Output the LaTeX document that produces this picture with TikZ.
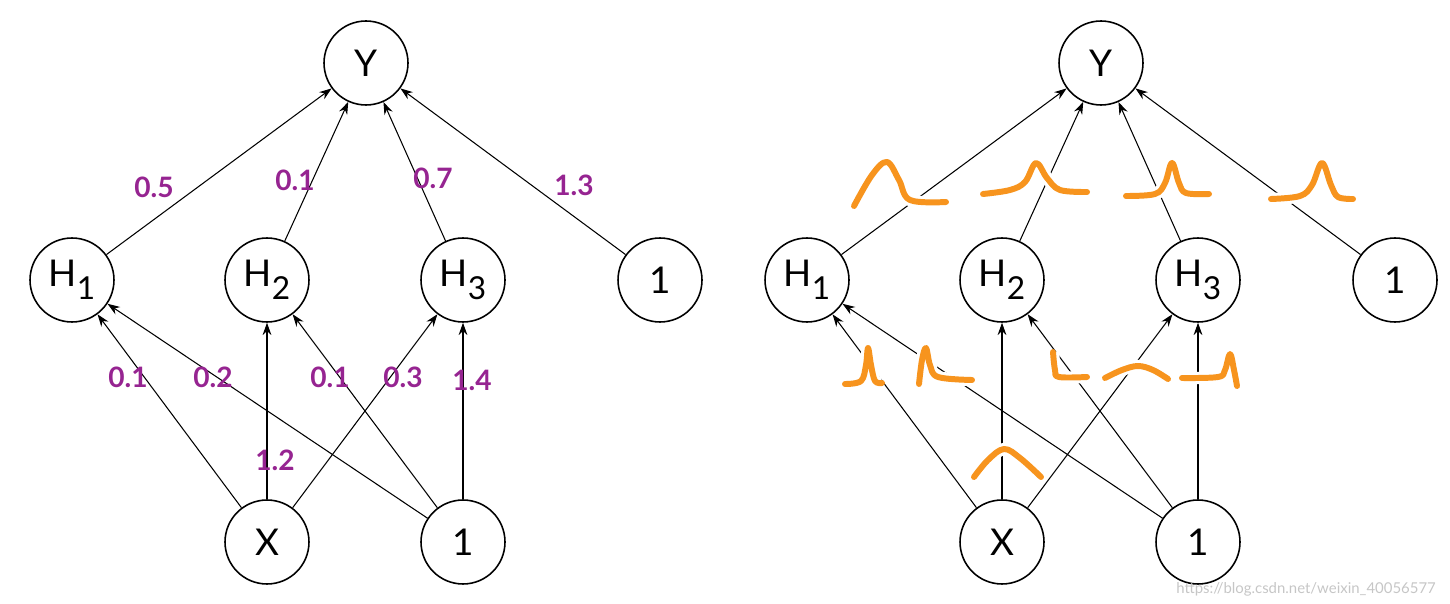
\documentclass[tikz,border=0pt]{standalone}
\usepackage{fontspec}
\setmainfont{Lato}
\usetikzlibrary{arrows.meta}
\definecolor{wgtpurple}{RGB}{150,36,145}
\definecolor{bumporange}{RGB}{247,148,30}
\tikzset{
	unit/.style={draw, circle, line width=0.9pt, minimum size=1.68cm, inner sep=0pt, font=\fontsize{21}{24}\selectfont},
	link/.style={line width=0.6pt, -{Stealth[length=7pt, width=5pt]}},
	wgt/.style={text=wgtpurple, font=\bfseries\fontsize{16}{18}\selectfont},
	bump/.style={line width=3.4pt, color=bumporange, line cap=round, line join=round, preaction={draw=white, line width=7pt}}
}
\newcommand{\Hsub}[1]{H\raisebox{-0.36em}{\fontsize{18}{18}\selectfont #1}}

\begin{document}
\begin{tikzpicture}[x=0.02cm, y=-0.02cm]
			%%%%% START %%%%%
			\useasboundingbox (0, 0) rectangle (1450, 604);
			
			%%%%% fixed weights %%%%%
			\node[unit] (yL) at (366, 63) {Y};
			\node[unit] (h1L) at (72, 280) {\Hsub{1}};
			\node[unit] (h2L) at (267, 280) {\Hsub{2}};
			\node[unit] (h3L) at (463, 280) {\Hsub{3}};
			\node[unit] (biasHL) at (660, 280) {1};
			\node[unit] (xL) at (267, 542) {X};
			\node[unit] (biasXL) at (463, 542) {1};
			
			\draw[link] (h1L) -- (yL);
			\draw[link] (h2L) -- (yL);
			\draw[link] (h3L) -- (yL);
			\draw[link] (biasHL) -- (yL);
			
			\draw[link] (xL) -- (h1L);
			\draw[link] (biasXL) -- (h1L);
			\draw[link] (xL) -- (h2L);
			\draw[link] (biasXL) -- (h2L);
			\draw[link] (xL) -- (h3L);
			\draw[link] (biasXL) -- (h3L);
			
			\node[wgt] (w1) at (154, 187) {0.5};
			\node[wgt] (w2) at (295, 180) {0.1};
			\node[wgt] (w3) at (433, 178) {0.7};
			\node[wgt] (w4) at (574, 185) {1.3};
			
			\node[wgt] (w5) at (128, 377) {0.1};
			\node[wgt] (w6) at (213, 377) {0.2};
			\node[wgt] (w7) at (275, 460) {1.2};
			\node[wgt] (w8) at (330, 377) {0.1};
			\node[wgt] (w9) at (403, 377) {0.3};
			\node[wgt] (w10) at (472, 380) {1.4};
			
			%%%%% weight distributions %%%%%
			\node[unit] (yR) at (1101, 63) {Y};
			\node[unit] (h1R) at (807, 280) {\Hsub{1}};
			\node[unit] (h2R) at (1002, 280) {\Hsub{2}};
			\node[unit] (h3R) at (1198, 280) {\Hsub{3}};
			\node[unit] (biasHR) at (1395, 280) {1};
			\node[unit] (xR) at (1002, 542) {X};
			\node[unit] (biasXR) at (1198, 542) {1};
			
			\draw[link] (h1R) -- (yR);
			\draw[link] (h2R) -- (yR);
			\draw[link] (h3R) -- (yR);
			\draw[link] (biasHR) -- (yR);
			
			\draw[link] (xR) -- (h1R);
			\draw[link] (biasXR) -- (h1R);
			\draw[link] (xR) -- (h2R);
			\draw[link] (biasXR) -- (h2R);
			\draw[link] (xR) -- (h3R);
			\draw[link] (biasXR) -- (h3R);
			
			\draw[bump] plot[smooth, tension=0.6] coordinates {(854, 206) (872, 175) (887, 162) (899, 180) (910, 200) (946, 202)};
			\draw[bump] plot[smooth, tension=0.6] coordinates {(983, 194) (1010, 190) (1025, 182) (1036, 163) (1047, 178) (1060, 190) (1087, 192)};
			\draw[bump] plot[smooth, tension=0.6] coordinates {(1126, 196) (1155, 194) (1165, 183) (1172, 163) (1179, 183) (1186, 193) (1209, 194)};
			\draw[bump] plot[smooth, tension=0.6] coordinates {(1271, 199) (1300, 196) (1312, 185) (1322, 163) (1331, 185) (1338, 197) (1353, 199)};
			
			\draw[bump] plot[smooth, tension=0.6] coordinates {(845, 384) (861, 381) (866, 365) (868, 348) (871, 365) (875, 381) (882, 383)};
			\draw[bump] plot[smooth, tension=0.6] coordinates {(919, 384) (922, 360) (926, 348) (930, 365) (938, 377) (972, 380)};
			\draw[bump] plot[smooth, tension=0.6] coordinates {(1053, 352) (1055, 370) (1059, 377) (1087, 377)};
			\draw[bump] plot[smooth, tension=0.6] coordinates {(1105, 378) (1122, 370) (1138, 366) (1153, 370) (1168, 379)};
			\draw[bump] plot[smooth, tension=0.6] coordinates {(1182, 378) (1218, 377) (1225, 370) (1230, 354) (1234, 370) (1237, 386)};
			
			\draw[bump] plot[smooth, tension=0.6] coordinates {(974, 477) (988, 460) (1004, 449) (1020, 458) (1041, 477)};
			
			\node[text=gray!45, font=\fontsize{8.5}{10}\selectfont, anchor=east] (mark) at (1442, 589) {https://blog.csdn.net/weixin\_40056577};
			
			%%%%% END %%%%%
\end{tikzpicture}
\end{document}
